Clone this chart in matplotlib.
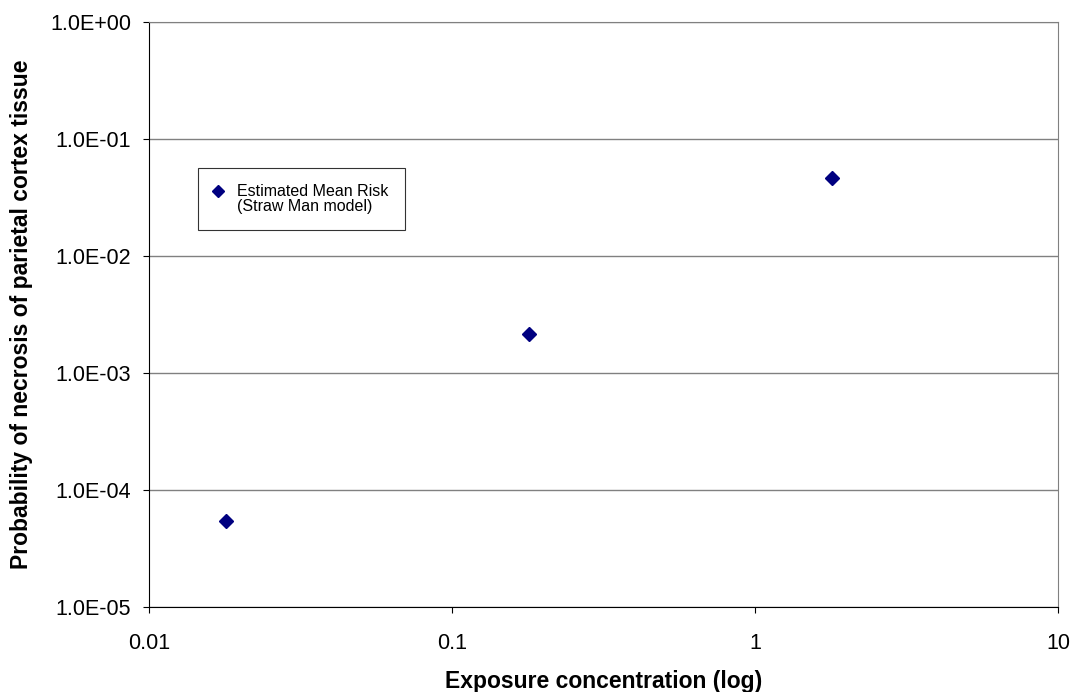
import numpy as np
import matplotlib.pyplot as plt
from matplotlib.legend_handler import HandlerLine2D
from matplotlib.ticker import FixedLocator, FuncFormatter, NullLocator

plt.rcParams['font.family'] = ['Liberation Sans', 'DejaVu Sans']

conc = [0.018, 0.18, 1.8]
risk = [5.4e-5, 2.15e-3, 4.65e-2]
xticks = [0.01, 0.1, 1, 10]
yticks = [1e-5, 1e-4, 1e-3, 1e-2, 1e-1, 1]


def sci_label(v, pos):
    # Excel-style 1.0E-05 labels
    m, e = ('%.1E' % v).split('E')
    return '%sE%s%02d' % (m, e[0], abs(int(e)))


class FirstLineMarker(HandlerLine2D):
    # put the legend marker next to the first line of a two-line label
    def create_artists(self, legend, orig_handle, xdescent, ydescent,
                       width, height, fontsize, trans):
        return super().create_artists(legend, orig_handle, xdescent,
                                      ydescent - 1.1 * fontsize, width, height,
                                      fontsize, trans)


fig = plt.figure(figsize=(10.74, 6.92), dpi=100)
ax = fig.add_axes([0.1387, 0.1228, 0.8463, 0.8453])

pts, = ax.plot(conc, risk, linestyle='none', marker='D', markersize=7,
               color='#000080', label='Estimated Mean Risk\n(Straw Man model)')

ax.set_xscale('log')
ax.set_yscale('log')
ax.set_xlim(0.01, 10)
ax.set_ylim(1e-5, 1)

ax.xaxis.set_major_locator(FixedLocator(xticks))
ax.xaxis.set_minor_locator(NullLocator())
ax.xaxis.set_major_formatter(FuncFormatter(lambda v, p: '%g' % v))
ax.yaxis.set_major_locator(FixedLocator(yticks))
ax.yaxis.set_minor_locator(NullLocator())
ax.yaxis.set_major_formatter(FuncFormatter(sci_label))

ax.grid(axis='y', color='#808080', linewidth=1)
ax.set_axisbelow(True)
for s in ['top', 'right']:
    ax.spines[s].set_color('#808080')
for s in ['left', 'bottom']:
    ax.spines[s].set_color('black')
ax.tick_params(direction='out', length=4.5, labelsize=15.5, colors='black')
ax.tick_params(axis='x', pad=14)
ax.tick_params(axis='y', pad=8.5)

ax.set_xlabel('Exposure concentration (log)', fontsize=16.5, fontweight='bold', labelpad=12)
ax.set_ylabel('Probability of necrosis of parietal cortex tissue', fontsize=16.5,
              fontweight='bold')
ax.yaxis.set_label_coords(-0.128, 0.5)

leg = ax.legend(loc='upper left', bbox_to_anchor=(0.054, 0.750), borderaxespad=0,
                prop={'size': 11.5}, frameon=True, fancybox=False,
                handletextpad=0.95, borderpad=1.0, handlelength=0.5,
                markerscale=0.85, handler_map={pts: FirstLineMarker()})
leg.get_frame().set_edgecolor('black')
leg.get_frame().set_linewidth(0.8)
for t in leg.get_texts():
    t.set_linespacing(1.0)

fig.savefig('out.png', dpi=100)
